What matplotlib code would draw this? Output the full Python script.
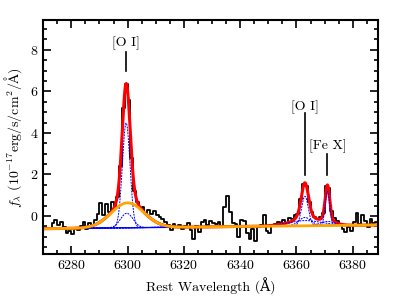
import numpy as np
import matplotlib
matplotlib.use("Agg")
import matplotlib.pyplot as plt
from matplotlib.ticker import MultipleLocator

plt.rcParams['font.family'] = ['cmr10', 'DejaVu Serif']
plt.rcParams['mathtext.fontset'] = 'cm'
plt.rcParams['axes.formatter.use_mathtext'] = True
plt.rcParams['axes.unicode_minus'] = True

# Observed spectrum (1 A bins, first bin centred on 6270.5 A)
flux = [
    -0.62, -0.58, -0.60, -0.35, -0.20, -0.42, -0.28, -0.55, -0.82, -0.72,
    -0.85, -0.60, -0.66, -0.50, -0.30, -0.62, -0.35, -0.42, -0.18, 0.10,
    0.62, 0.05, 0.60, 0.20, 0.66, 0.40, 0.90, 2.40, 5.20, 6.35,
    5.60, 2.80, 1.20, 0.70, 0.40, 0.45, 0.15, 0.30, 0.10, 0.25,
    0.05, -0.05, -0.15, -0.30, -0.45, -0.65, -0.40, -0.55, -0.45, -0.60,
    -0.50, -0.35, -0.65, -1.10, -0.50, -0.75, -0.30, -0.20, -0.45, -0.25,
    -0.35, -0.40, -0.30, -0.55, 0.45, 0.95, 0.20, -0.35, -0.40, -1.00,
    -0.20, -0.25, -0.80, -1.10, -0.60, -1.20, -0.55, -0.45, 0.05, -0.70,
    -0.80, -0.45, -0.40, -0.30, -0.45, -0.20, -0.35, -0.10, -0.15, 0.05,
    0.10, 0.80, 1.55, 1.45, 0.70, 0.20, -0.05, -0.15, -0.05, 0.15,
    1.45, 1.35, 0.25, -0.10, -0.25, -0.45, -0.60, -0.75, -0.55, -0.70,
    -0.30, 0.15, -0.40, 0.05, -0.25, -0.55, -0.15, -0.35, -0.30,
]
wave = np.arange(len(flux)) + 6270.5

# Linear continuum (end points)
cont_wave = [6270.0, 6389.0]
cont_flux = [-0.61, -0.43]

# Gaussian fit components: centre, amplitude, sigma
comp_center = [6299.5, 6299.7, 6363.0, 6363.0, 6363.0, 6371.0, 6371.0]
comp_amp = [5.05, 0.70, 1.42, 0.40, 0.25, 1.65, 0.20]
comp_sigma = [1.35, 2.2, 1.2, 2.2, 6.0, 0.8, 2.5]
# broad [O I] 6300 component (orange)
broad_center = 6300.0
broad_amp = 1.2
broad_sigma = 5.8

# line labels
line_names = ['[O I]', '[O I]', '[Fe X]']
line_wave = [6299.5, 6363.0, 6371.0]
label_y = [8.3, 5.25, 3.35]
tick_top = [7.9, 4.98, 2.97]
tick_bottom = [6.97, 1.97, 1.97]

xg = np.linspace(6270, 6389, 2000)
base = np.interp(xg, cont_wave, cont_flux)


def gauss(x, c, a, s):
    return a * np.exp(-0.5 * ((x - c) / s) ** 2)


broad = gauss(xg, broad_center, broad_amp, broad_sigma)
comps = [gauss(xg, c, a, s) for c, a, s in zip(comp_center, comp_amp, comp_sigma)]
model = base + broad + np.sum(comps, axis=0)

fig = plt.figure(figsize=(4.07, 3.05), dpi=100)
ax = fig.add_axes([0.106, 0.167, 0.823, 0.767])

ax.step(wave, flux, where='mid', color='black', lw=1.3)
ax.plot(xg, model, color='red', lw=2.2)
for comp in comps:
    ax.plot(xg, base + comp, color='blue', lw=0.7, ls='--', dashes=(2, 1))
ax.plot(xg, base, color='blue', lw=1.0)
ax.plot(xg, base + broad, color='orange', lw=2.0)

for name, w, ty, t1, t2 in zip(line_names, line_wave, label_y, tick_top, tick_bottom):
    ax.plot([w, w], [t2, t1], color='black', lw=1.2)
    ax.text(w, ty, name, ha='center', va='center', fontsize=10)

ax.set_xlim(6270, 6389)
ax.set_ylim(-1.83, 9.43)
ax.xaxis.set_major_locator(MultipleLocator(20))
ax.xaxis.set_minor_locator(MultipleLocator(5))
ax.yaxis.set_major_locator(MultipleLocator(2))
ax.yaxis.set_minor_locator(MultipleLocator(0.5))
ax.tick_params(which='both', direction='in', top=True, right=True, width=1.2,
               labelsize=10)
ax.tick_params(which='major', length=6)
ax.tick_params(which='minor', length=3)
for sp in ax.spines.values():
    sp.set_linewidth(1.5)

ax.set_xlabel('Rest Wavelength (Å)', fontsize=10)
ax.set_ylabel(r'$f_\lambda$ (10$^{-17}$erg/s/cm$^2$/$\mathrm{\AA}$)', fontsize=10)

fig.savefig('out.png', dpi=100)
